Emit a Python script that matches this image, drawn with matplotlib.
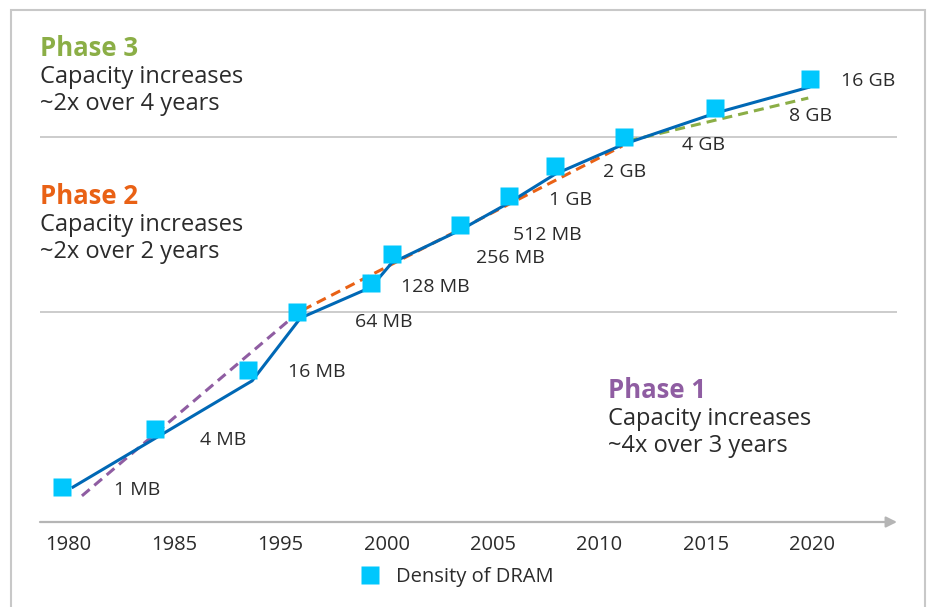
import matplotlib
matplotlib.use("Agg")
from matplotlib import pyplot as plt
from matplotlib.lines import Line2D
from matplotlib.patches import Rectangle
import numpy as np

plt.rcParams["font.family"] = ["Open Sans", "DejaVu Sans"]

W, H = 928, 607

# DRAM density markers (year, capacity in MB)
marker_years = [1979.7, 1984.7, 1989.7, 1992.3, 1996.3, 1997.4,
                2001.1, 2003.7, 2006.2, 2009.9, 2014.8, 2019.9]
marker_mb = [1, 4, 16, 64, 128, 256, 512, 1024, 2048, 4096, 8192, 16384]
marker_labels = ["1 MB", "4 MB", "16 MB", "64 MB", "128 MB", "256 MB",
                 "512 MB", "1 GB", "2 GB", "4 GB", "8 GB", "16 GB"]

# blue trend line
trend_years = [1980.2, 1989.9, 1992.5, 1996.3, 1997.4, 2001.1,
               2003.7, 2006.2, 2009.9, 2014.8, 2019.9]
trend_mb = [0.98, 12.5, 55.7, 116, 206, 452, 861, 1710, 3490, 7280, 13590]

# phase fits (dashed)
phase1_years = [1980.75, 1991.9]
phase1_mb = [0.81, 53]
phase2_years = [1992.6, 2009.8]
phase2_mb = [67, 3330]
phase3_years = [2010.1, 2019.8]
phase3_mb = [3750, 10430]

tick_labels = ["1980", "1985", "1995", "2000", "2005", "2010", "2015", "2020"]

phase_titles = ["Phase 3", "Phase 2", "Phase 1"]
phase_lines = [["Capacity increases", "~2x over 4 years"],
               ["Capacity increases", "~2x over 2 years"],
               ["Capacity increases", "~4x over 3 years"]]

BLUE = "#0068b5"
CYAN = "#00c7fd"
PURPLE = "#8f5da2"
ORANGE = "#e96115"
GREEN = "#8bae46"
TEXT = "#2b2b2b"
GRID = "#c4c4c4"

fig = plt.figure(figsize=(W / 100, H / 100), dpi=100)
ax = fig.add_axes([40 / W, 1 - 522 / H, (897 - 40) / W, (522 - 20) / H])

ax.set_yscale("log", base=2)
ax.set_xlim(1978.495, 2024.57)
ax.set_ylim(2 ** -1.201, 2 ** 16.026)

dash = (3.3, 2.0)
ax.plot(phase1_years, phase1_mb, color=PURPLE, lw=2.2, dashes=dash, zorder=2)
ax.plot(phase2_years, phase2_mb, color=ORANGE, lw=2.2, dashes=dash, zorder=2)
ax.plot(phase3_years, phase3_mb, color=GREEN, lw=2.2, dashes=dash, zorder=2)
ax.plot(trend_years, trend_mb, color=BLUE, lw=2.2, zorder=3,
        solid_capstyle="butt")
ax.plot(marker_years, marker_mb, "s", color=CYAN, ms=13, mec="none",
        ls="none", zorder=4)

# label offsets in pixels from each marker (right, down)
offsets = [(52, 3), (45, 11), (40, 2), (58, 10), (30, 4), (84, 4),
           (53, 10), (40, 4), (48, 6), (58, 8), (74, 8), (31, 2)]
for x, y, lab, (dx, dy) in zip(marker_years, marker_mb, marker_labels, offsets):
    ax.annotate(lab, (x, y), xytext=(dx, -dy), textcoords="offset pixels",
                ha="left", va="center", fontsize=14, color=TEXT)

# x axis with arrow
for s in ax.spines.values():
    s.set_visible(False)
ax.annotate("", xy=(1, 0), xytext=(0, 0), xycoords="axes fraction",
            arrowprops=dict(arrowstyle="-|>", color="#b5b5b5", lw=1.6,
                            mutation_scale=16, shrinkA=0, shrinkB=0))
ax.set_xticks(np.linspace(1980, 2020, len(tick_labels)))
ax.set_xticklabels(tick_labels, fontsize=14.5, color=TEXT)
ax.tick_params(axis="x", length=0, pad=9)

ax.set_yticks([64, 4096])
ax.set_yticks([], minor=True)
ax.set_yticklabels([])
ax.tick_params(axis="y", length=0)
ax.grid(axis="y", color=GRID, lw=1.2)
ax.set_axisbelow(True)

# phase annotations
phase_pos = [(40, 56), (40, 204), (608, 398)]
phase_colors = [GREEN, ORANGE, PURPLE]
for title, lines, (px, py), c in zip(phase_titles, phase_lines, phase_pos, phase_colors):
    fig.text(px / W, 1 - py / H, title, color=c, fontsize=18.5,
             fontweight="bold", va="baseline")
    for i, line in enumerate(lines):
        fig.text(px / W, 1 - (py + 27 * (i + 1)) / H, line, color=TEXT,
                 fontsize=17, va="baseline")

# legend
handle = Line2D([], [], marker="s", color=CYAN, ms=13, mec="none", ls="none")
fig.legend([handle], ["Density of DRAM"], loc="center left",
           bbox_to_anchor=(332 / W, 1 - 577 / H), frameon=False,
           fontsize=14.5, handletextpad=0.3, labelcolor=TEXT)

# outer frame
fig.patches.append(Rectangle((11 / W, -0.02), (925 - 11) / W, 1.02 - 10 / H,
                             transform=fig.transFigure, fill=False,
                             edgecolor="#c8c8c8", lw=1.5))

fig.savefig("out.png", dpi=100)
